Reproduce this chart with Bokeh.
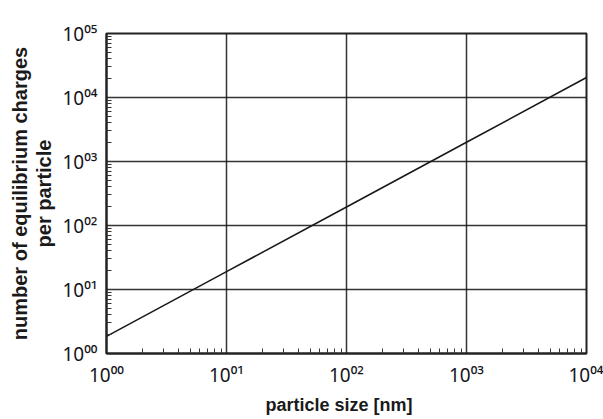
from bokeh.plotting import figure
from bokeh.models import FixedTicker, Title
from bokeh.embed import file_html
from bokeh.resources import INLINE

# ---- data ----
sizes = [1, 10, 100, 1000, 10000]
charges = [1.85, 19, 195, 2000, 20500]

x_ticks = [1, 10, 100, 1000, 10000]
x_labels = ["10\u2070\u2070", "10\u2070\u00b9", "10\u2070\u00b2", "10\u2070\u00b3", "10\u2070\u2074"]
y_ticks = [1, 10, 100, 1000, 10000, 100000]
y_labels = ["10\u2070\u2070", "10\u2070\u00b9", "10\u2070\u00b2", "10\u2070\u00b3", "10\u2070\u2074", "10\u2070\u2075"]

x_title = "particle size [nm]"
y_title = ["number of equilibrium charges", "per particle"]

FONT = "Liberation Sans"
TICK_FONT = "Noto Sans"


def minors(ticks):
    out = []
    for t in ticks[:-1]:
        out += [k * t for k in range(2, 10)]
    return out


p = figure(width=603, height=419, x_axis_type="log", y_axis_type="log",
           x_range=(1, 1e4), y_range=(1, 1e5),
           output_backend="svg", toolbar_location=None,
           min_border_left=106, min_border_right=17,
           min_border_top=33, min_border_bottom=66)

p.background_fill_color = "white"
p.border_fill_color = "white"
p.outline_line_color = "#222222"
p.outline_line_width = 2

p.xgrid.ticker = FixedTicker(ticks=x_ticks)
p.ygrid.ticker = FixedTicker(ticks=y_ticks)
for g in (p.xgrid, p.ygrid):
    g.grid_line_color = "#111111"
    g.grid_line_alpha = 0.85
    g.grid_line_width = 1.5

p.xaxis.ticker = FixedTicker(ticks=x_ticks, minor_ticks=minors(x_ticks))
p.yaxis.ticker = FixedTicker(ticks=y_ticks, minor_ticks=minors(y_ticks))
p.xaxis.major_label_overrides = dict(zip(x_ticks, x_labels))
p.yaxis.major_label_overrides = dict(zip(y_ticks, y_labels))
for ax in (p.xaxis, p.yaxis):
    ax.major_tick_in = 0
    ax.major_tick_out = 0
    ax.minor_tick_in = 5
    ax.minor_tick_out = 0
    ax.minor_tick_line_color = "#333333"
    ax.minor_tick_line_width = 1
    ax.axis_line_color = "#222222"
    ax.axis_line_width = 2
    ax.major_label_text_font = TICK_FONT
    ax.major_label_text_font_size = "19px"
    ax.major_label_text_color = "#151520"
p.xaxis.major_label_standoff = 8
p.yaxis.major_label_standoff = 9

p.line(sizes, charges, line_color="#1a1a1a", line_width=1.6)

# axis titles
p.add_layout(Title(text=x_title, align="left", text_font=FONT,
                   text_font_size="18px", text_font_style="bold",
                   text_color="#1a1a1a", standoff=4, offset=159), "below")
p.add_layout(Title(text="\n".join(y_title), align="center", text_align="center",
                   text_font=FONT, text_font_size="20px", text_font_style="bold",
                   text_color="#1a1a1a", standoff=8, text_line_height=1.1), "left")

open("out.html", "w").write(file_html(p, INLINE))
